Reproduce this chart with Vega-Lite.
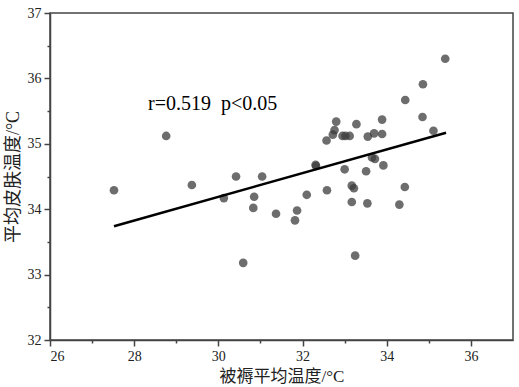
{
  "$schema": "https://vega.github.io/schema/vega-lite/v6.json",
  "autosize": "none",
  "width": 463,
  "height": 327,
  "padding": {"left": 50, "top": 13, "right": 6, "bottom": 47},
  "background": "white",
  "config": {
    "font": "Liberation Serif, Times New Roman, serif",
    "view": {"stroke": "#444444", "strokeWidth": 1.5},
    "axis": {
      "grid": false,
      "domainColor": "#444444",
      "domainWidth": 1.5,
      "tickColor": "#444444",
      "tickWidth": 1.5,
      "labelFont": "Liberation Serif, Times New Roman, serif",
      "labelFontSize": 14,
      "labelColor": "#222222",
      "titleFont": "Liberation Serif, Noto Sans CJK SC, serif",
      "titleFontWeight": "normal",
      "titleColor": "#222222"
    }
  },
  "datasets": {
    "pts": [
      {"x": 27.52, "y": 34.29}, {"x": 28.76, "y": 35.12}, {"x": 29.37, "y": 34.37},
      {"x": 30.13, "y": 34.17}, {"x": 30.42, "y": 34.50}, {"x": 31.04, "y": 34.50},
      {"x": 30.85, "y": 34.19}, {"x": 30.83, "y": 34.02}, {"x": 30.59, "y": 33.18},
      {"x": 31.37, "y": 33.93}, {"x": 31.87, "y": 33.98}, {"x": 31.82, "y": 33.83},
      {"x": 32.10, "y": 34.22}, {"x": 32.31, "y": 34.68}, {"x": 32.32, "y": 34.66},
      {"x": 32.58, "y": 34.29}, {"x": 33.17, "y": 34.36}, {"x": 33.22, "y": 34.32},
      {"x": 33.17, "y": 34.11}, {"x": 33.54, "y": 34.09}, {"x": 34.30, "y": 34.07},
      {"x": 34.43, "y": 34.34}, {"x": 33.25, "y": 33.29}, {"x": 33.00, "y": 34.61},
      {"x": 33.51, "y": 34.58}, {"x": 33.92, "y": 34.67}, {"x": 33.65, "y": 34.79},
      {"x": 33.72, "y": 34.77}, {"x": 32.57, "y": 35.05}, {"x": 32.72, "y": 35.14},
      {"x": 32.76, "y": 35.21}, {"x": 32.80, "y": 35.34}, {"x": 32.95, "y": 35.12},
      {"x": 33.02, "y": 35.12}, {"x": 33.12, "y": 35.12}, {"x": 33.28, "y": 35.30},
      {"x": 33.55, "y": 35.11}, {"x": 33.70, "y": 35.16}, {"x": 33.89, "y": 35.15},
      {"x": 33.89, "y": 35.37}, {"x": 34.44, "y": 35.67}, {"x": 34.85, "y": 35.41},
      {"x": 34.86, "y": 35.91}, {"x": 35.11, "y": 35.20}, {"x": 35.39, "y": 36.30}
    ],
    "fit": [
      {"x": 27.52, "y": 33.74},
      {"x": 35.41, "y": 35.17}
    ],
    "note": [
      {"x": 28.33, "y": 35.515, "label": "r=0.519\u00a0\u00a0p<0.05"}
    ]
  },
  "encoding": {
    "x": {
      "field": "x", "type": "quantitative",
      "scale": {"domain": [26, 37], "nice": false, "zero": false},
      "axis": {
        "values": [26, 27, 28, 29, 30, 31, 32, 33, 34, 35, 36],
        "labelExpr": "datum.value % 2 == 0 ? format(datum.value, 'd') : ''",
        "tickSize": {"condition": {"test": "datum.value % 2 == 0", "value": 6}, "value": 3},
        "labelPadding": 3,
        "title": "被褥平均温度/°C", "titleFontSize": 17, "titlePadding": 5
      }
    },
    "y": {
      "field": "y", "type": "quantitative",
      "scale": {"domain": [32, 37], "nice": false, "zero": false},
      "axis": {
        "values": [32, 32.5, 33, 33.5, 34, 34.5, 35, 35.5, 36, 36.5, 37],
        "labelExpr": "datum.value % 1 == 0 ? format(datum.value, 'd') : ''",
        "tickSize": {"condition": {"test": "datum.value % 1 == 0", "value": 6}, "value": 3},
        "labelPadding": 3,
        "title": "平均皮肤温度/°C", "titleFontSize": 18, "titlePadding": 5
      }
    }
  },
  "layer": [
    {
      "data": {"name": "pts"},
      "mark": {"type": "point", "filled": true, "size": 75, "color": "#3a3a3a", "opacity": 0.74}
    },
    {
      "data": {"name": "fit"},
      "mark": {"type": "line", "color": "black", "strokeWidth": 2.5}
    },
    {
      "data": {"name": "note"},
      "mark": {"type": "text", "fontSize": 20, "align": "left", "baseline": "alphabetic", "color": "black"},
      "encoding": {
        "text": {"field": "label"}
      }
    }
  ]
}
